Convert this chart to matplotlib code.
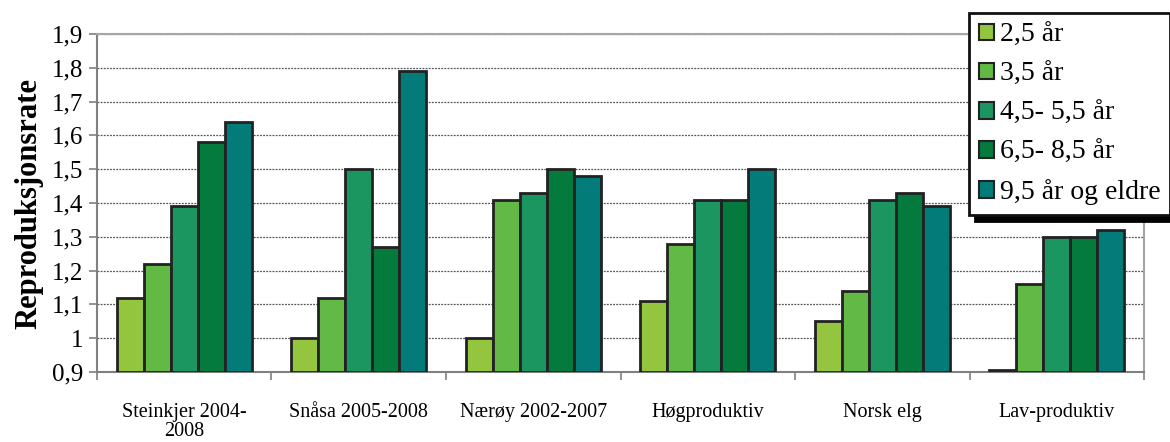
import numpy as np
import matplotlib
matplotlib.use("Agg")
import matplotlib.pyplot as plt

plt.rcParams['font.family'] = ['Liberation Serif', 'DejaVu Serif']

categories = ["Steinkjer 2004-\n2008", "Snåsa 2005-2008", "Nærøy 2002-2007",
              "Høgproduktiv", "Norsk elg", "Lav-produktiv"]
series_names = ["2,5 år", "3,5 år", "4,5- 5,5 år", "6,5- 8,5 år", "9,5 år og eldre"]
age_2_5 = [1.12, 1.00, 1.00, 1.11, 1.05, 0.905]
age_3_5 = [1.22, 1.12, 1.41, 1.28, 1.14, 1.16]
age_4_5 = [1.39, 1.50, 1.43, 1.41, 1.41, 1.30]
age_6_5 = [1.58, 1.27, 1.50, 1.41, 1.43, 1.30]
age_9_5 = [1.64, 1.79, 1.48, 1.50, 1.39, 1.32]
series = [age_2_5, age_3_5, age_4_5, age_6_5, age_9_5]
colors = ["#93C63E", "#62B946", "#1C9660", "#047A3D", "#037B78"]
ytick_labels = ["0,9", "1", "1,1", "1,2", "1,3", "1,4", "1,5", "1,6", "1,7", "1,8", "1,9"]

fig = plt.figure(figsize=(11.7, 4.42), dpi=100)
ax = fig.add_axes([0.0829, 0.1584, 0.8949, 0.7646])

x = np.arange(len(categories))
w = 0.155
for i, (vals, col, name) in enumerate(zip(series, colors, series_names)):
    offs = (i - 2) * w
    ax.bar(x + offs, np.array(vals) - 0.9, width=w, bottom=0.9, color=col,
           edgecolor="#222222", linewidth=2, label=name, zorder=3)

ax.set_xlim(-0.5, len(categories) - 0.5)
ax.set_ylim(0.9, 1.9)
ax.set_yticks(np.arange(0.9, 1.91, 0.1))
ax.set_yticklabels(ytick_labels, fontsize=18)
ax.yaxis.grid(True, linestyle=(0, (1.5, 1)), color="#555555", linewidth=0.9, zorder=0)
ax.set_xticks(x)
ax.set_xticklabels(categories, fontsize=14.5, linespacing=1.05)
ax.set_xticks(np.arange(-0.5, len(categories)), minor=True)
ax.tick_params(axis="x", which="major", length=0, pad=22)
ax.tick_params(axis="x", which="minor", length=6, color="#808080", width=1.2)
ax.tick_params(axis="y", length=6, color="#808080", width=1.2, pad=4)
for s in ["left", "bottom"]:
    ax.spines[s].set_color("#808080")
    ax.spines[s].set_linewidth(1.5)
for s in ["top", "right"]:
    ax.spines[s].set_color("#a6a6a6")
    ax.spines[s].set_linewidth(1.5)

ax.set_ylabel("Reproduksjonsrate", fontsize=22, fontweight="bold", labelpad=6)

leg = fig.legend(loc="upper left", bbox_to_anchor=(969 / 1170, 1 - 13 / 442),
                 fontsize=20, frameon=True, fancybox=False,
                 shadow={"ox": 4, "oy": -4, "color": "black", "alpha": 1},
                 handlelength=0.55, handleheight=0.55, handletextpad=0.2,
                 labelspacing=0.51, borderpad=0.35, borderaxespad=0)
leg.get_frame().set_edgecolor("#111111")
leg.get_frame().set_linewidth(2)
leg.get_frame().set_alpha(1)
for h in leg.legend_handles:
    h.set_linewidth(1.5)

fig.savefig("out.png", dpi=100)
